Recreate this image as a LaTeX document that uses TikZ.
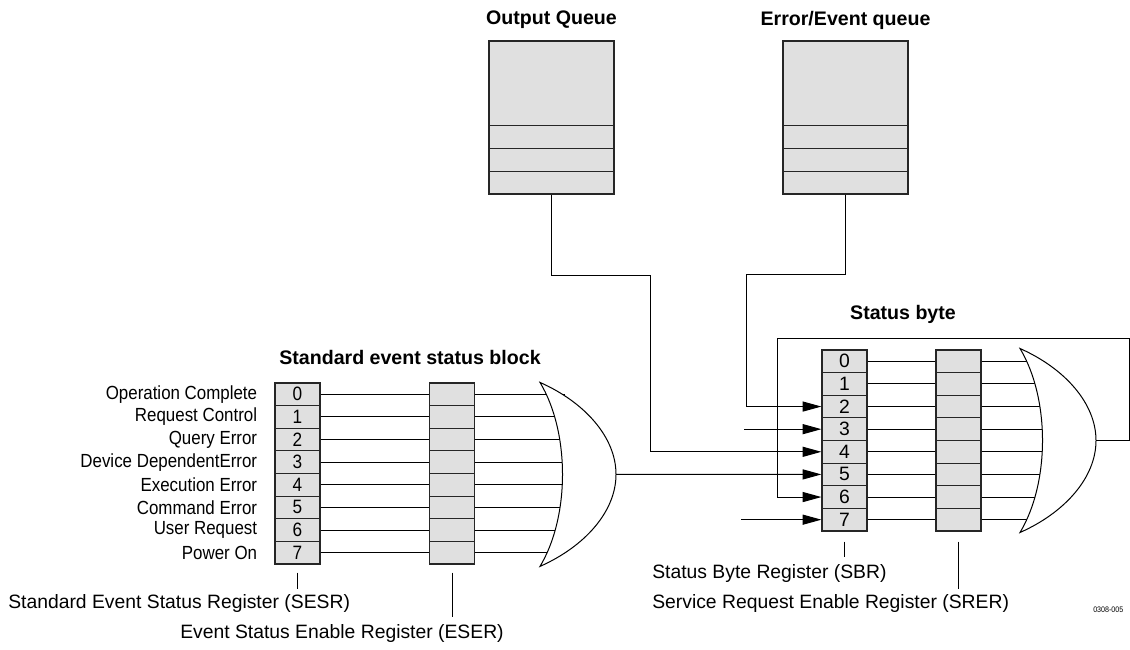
\documentclass[tikz,border=0pt]{standalone}
\usepackage{fontspec}
\setmainfont{Liberation Sans}
\newfontfamily\condfont[FakeStretch=0.89]{Liberation Sans}
\usetikzlibrary{arrows.meta,positioning,calc}
\definecolor{grisbit}{HTML}{E0E0E0}

\begin{document}
\begin{tikzpicture}[x=0.75pt,y=-0.75pt,
         tipobit/.style={rectangle,draw=black!85,fill=grisbit,line width=0.9pt,minimum width=33.75pt,
                         minimum height=16.97pt,inner sep=0pt,font=\fontsize{14.5}{14.5}\selectfont},
         tipocola/.style={rectangle,draw=black!85,fill=grisbit,line width=0.9pt,minimum width=93.75pt,
                          minimum height=114.75pt,inner sep=0pt},
         tipotitulo/.style={font=\fontsize{14.7}{16}\selectfont\bfseries,inner sep=0pt},
         tipoetiqueta/.style={font=\fontsize{14.5}{16}\selectfont,inner sep=0pt,anchor=west},
         tipoentrada/.style={font=\condfont\fontsize{14.25}{16}\selectfont,inner sep=0pt,anchor=east},
         tipocable/.style={line width=0.75pt},
         tiposeta/.style={-{Triangle[length=14pt,width=7.5pt]},line width=0.75pt},
         tipopuerta/.style={draw,fill=white,line width=0.75pt}]
        \useasboundingbox (0,0) rectangle (1130,649);
        % colas
        \node [tipocola] (oq) at (551.5,117.5) {};
        \node [tipocola] (eq) at (845.5,117.5) {};
        \foreach \q in {oq,eq}
          \foreach \k in {1,2,3}
            \draw [line width=0.9pt,black!85] ([yshift=\k*17.25pt]\q.south west) -- ([yshift=\k*17.25pt]\q.south east);
        \node [tipotitulo] (toq) at (551.5,20) {Output Queue};
        \node [tipotitulo] (teq) at (845.5,20) {Error/Event queue};
        % puertas
        \coordinate (gA) at (540,382.4);
        \coordinate (gB) at (1020,348.5);
        \coordinate (gAin) at (565,474.4);
        \coordinate (gBin) at (1045,440.5);
        \coordinate (gAout) at (616,474.4);
        \coordinate (gBout) at (1096,440.5);
        % registros
        \foreach \i in {0,...,7} {
          \node [tipobit] (sesr\i) at (297.5,{394.3+22.625*\i}) {\condfont\i};
          \node [tipobit] (eser\i) at (452,{394.3+22.625*\i}) {};
          \node [tipobit] (sbr\i) at (844.5,{361.3+22.625*\i}) {\i};
          \node [tipobit] (srer\i) at (958.5,{361.3+22.625*\i}) {};
          \draw [tipocable] (sesr\i) -- (eser\i);
          \draw [tipocable] (sbr\i) -- (srer\i);
          \draw [tipocable] (eser\i.east) -- (eser\i.east -| gAin);
          \draw [tipocable] (srer\i.east) -- (srer\i.east -| gBin);
        }
        \foreach \i/\t in {0/Operation Complete,1/Request Control,2/Query Error,3/Device DependentError,
                           4/Execution Error,5/Command Error,6/User Request,7/Power On}
          \node [tipoentrada,left=12.75pt of sesr\i] (ent\i) {\t};
        \foreach \g in {gA,gB}
          \draw [tipopuerta,shift={(\g)}] (0,0) .. controls (45,20) and (76,55) .. (76,92)
                .. controls (76,129) and (45,164) .. (0,184)
                .. controls (30,134) and (30,50) .. (0,0) -- cycle;
        \node [tipotitulo] (tseb) at (410,357) {Standard event status block};
        \node [tipotitulo] (tsb) at (903,314) {Status byte};
        % entradas
        \coordinate (in3) at ([xshift=-57.75pt]sbr3.west);
        \coordinate (in7) at ([xshift=-60pt]sbr7.west);
        \draw [tiposeta] (oq.south) |- (650,275) |- (sbr4.west);
        \draw [tiposeta] (eq.south) |- (746,274) |- (sbr2.west);
        \draw [tiposeta] (in3) -- (sbr3.west);
        \draw [tiposeta] (in7) -- (sbr7.west);
        \draw [tiposeta] (gAout) -- (sbr5.west);
        \draw [tiposeta] (gBout) -| (1129,338) -- (777,338) |- (sbr6.west);
        % nombres
        \draw [tipocable] ([yshift=-6pt]sesr7.south) -- ++(0,-12pt);
        \draw [tipocable] ([yshift=-6pt]eser7.south) -- ++(0,-33pt);
        \draw [tipocable] ([yshift=-7.5pt]sbr7.south) -- ++(0,-11.25pt);
        \draw [tipocable] ([yshift=-7.5pt]srer7.south) -- ++(0,-35.25pt);
        \node [tipoetiqueta] (lsesr) at (8,603) {Standard Event Status Register (SESR)};
        \node [tipoetiqueta] (leser) at (180,633) {Event Status Enable Register (ESER)};
        \node [tipoetiqueta] (lsbr) at (652,573) {Status Byte Register (SBR)};
        \node [tipoetiqueta] (lsrer) at (652,603) {Service Request Enable Register (SRER)};
        \node [font=\condfont\fontsize{6}{6}\selectfont,inner sep=0pt,anchor=west] (ref) at (1093,610) {0308-005};
      \end{tikzpicture}
\end{document}
